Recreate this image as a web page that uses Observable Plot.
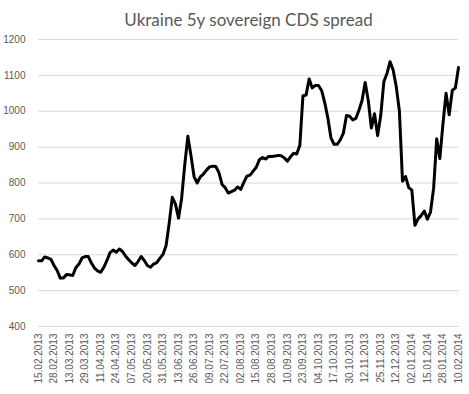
<!DOCTYPE html>
<html>
<head>
<meta charset="utf-8">
<script src="https://cdn.jsdelivr.net/npm/d3@7"></script>
<script src="https://cdn.jsdelivr.net/npm/@observablehq/plot@0.6"></script>
<style>
  html, body { margin: 0; padding: 0; background: #fff; }
  #chart svg { display: block; }
</style>
</head>
<body>
<div id="chart"></div>
<script>
const title = "Ukraine 5y sovereign CDS spread";

// Category labels (one every 5 observations)
const dateLabels = ["15.02.2013", "28.02.2013", "13.03.2013", "29.03.2013", "11.04.2013", "24.04.2013",
  "07.05.2013", "20.05.2013", "31.05.2013", "13.06.2013", "26.06.2013", "09.07.2013", "22.07.2013",
  "02.08.2013", "15.08.2013", "28.08.2013", "10.09.2013", "23.09.2013", "04.10.2013", "17.10.2013",
  "30.10.2013", "12.11.2013", "25.11.2013", "12.12.2013", "02.01.2014", "15.01.2014", "28.01.2014",
  "10.02.2014"];
const labelStep = 5;

// CDS spread (bp)
const spread = [
  583, 583, 594, 591, 587, 570, 556, 535, 535, 545,
  544, 542, 564, 574, 591, 595, 595, 577, 563, 555,
  551, 565, 584, 606, 613, 607, 616, 609, 596, 586,
  577, 570, 581, 595, 584, 570, 565, 574, 578, 590,
  601, 625, 687, 760, 742, 702, 757, 850, 930, 877,
  818, 800, 817, 825, 836, 845, 847, 846, 829, 796,
  787, 772, 776, 780, 789, 782, 802, 819, 822, 833,
  844, 865, 871, 867, 874, 874, 875, 877, 876, 870,
  861, 873, 883, 881, 905, 1043, 1045, 1090, 1065, 1072,
  1072, 1058, 1024, 982, 926, 908, 908, 920, 939, 988,
  986, 976, 980, 1003, 1030, 1080, 1030, 953, 993, 932,
  988, 1082, 1105, 1138, 1115, 1068, 1001, 805, 818, 787,
  780, 682, 700, 709, 722, 699, 719, 785, 923, 868,
  965, 1050, 990, 1058, 1065, 1122
];

const yTicks = [400, 500, 600, 700, 800, 900, 1000, 1100, 1200];

const data = spread.map((v, i) => ({i, v}));
const xTicks = dateLabels.map((d, k) => k * labelStep);

const chart = Plot.plot({
  width: 469,
  height: 394,
  marginLeft: 38,
  marginRight: 11,
  marginTop: 39,
  marginBottom: 68,
  style: {fontFamily: "'Liberation Sans', Arial, sans-serif", fontSize: "10px", color: "#595959", background: "#fff"},
  x: {domain: [0, spread.length - 1], axis: null},
  y: {domain: [400, 1200], axis: null},
  marks: [
    Plot.ruleY(yTicks, {stroke: "#d9d9d9", strokeWidth: 1, insetLeft: 0, insetRight: -0.5}),
    Plot.axisY(yTicks, {tickSize: 0, tickPadding: 13, fill: "#595959", fontSize: 10, label: null,
      tickFormat: (d) => String(d)}),
    Plot.axisX(xTicks, {tickSize: 0, tickPadding: 7, tickRotate: -90, fill: "#595959", fontSize: 10, label: null,
      tickFormat: (d) => dateLabels[d / labelStep]}),
    Plot.line(data, {x: "i", y: "v", stroke: "#000", strokeWidth: 3, strokeLinejoin: "round", strokeLinecap: "round"}),
    Plot.text([title], {frameAnchor: "top", dy: -26, fontSize: 17, fill: "#595959",
      fontFamily: "Lato, 'Open Sans', sans-serif"})
  ]
});
document.getElementById("chart").append(chart);
</script>
</body>
</html>
